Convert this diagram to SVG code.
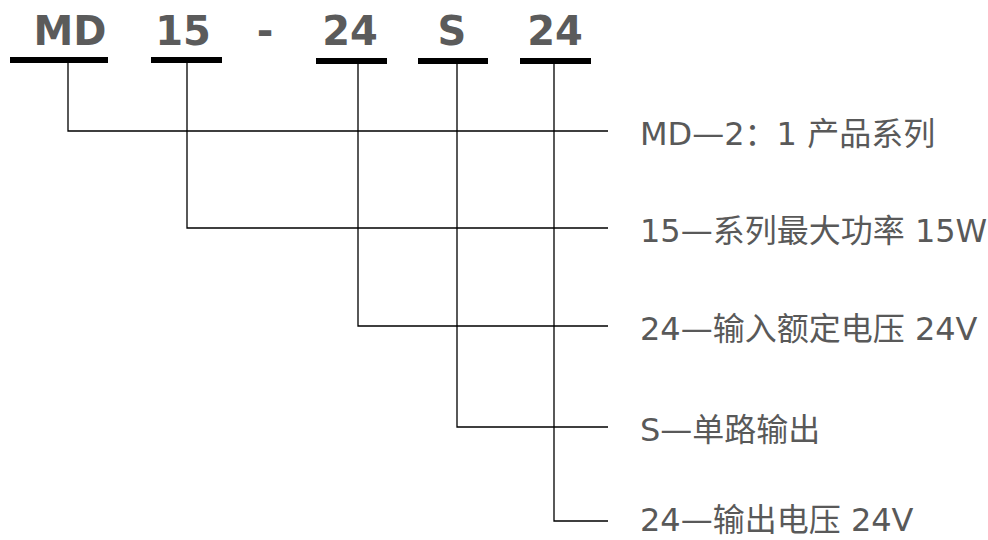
<svg xmlns="http://www.w3.org/2000/svg" width="988" height="540" viewBox="0 0 988 540">
<style>
.t{font-family:"DejaVu Sans","Noto Sans CJK SC",sans-serif;font-weight:bold;font-size:40px;fill:#5b5b5b;text-anchor:middle}
.l{font-family:"DejaVu Sans","Noto Sans CJK SC",sans-serif;font-size:32px;fill:#595959}
.bar{fill:#000}
.c{stroke:#000;stroke-width:1.3;fill:none}
</style>
<rect width="988" height="540" fill="#fff"/>
<g id="code-MD"><text class="t" x="70" y="45">MD</text><rect class="bar" x="10" y="57" width="98" height="6"/></g>
<g id="code-15"><text class="t" x="183" y="45">15</text><rect class="bar" x="151" y="57" width="71" height="6"/></g>
<g id="code-dash"><text class="t" x="265" y="45">-</text></g>
<g id="code-24a"><text class="t" x="350" y="45">24</text><rect class="bar" x="316" y="58" width="71" height="6"/></g>
<g id="code-S"><text class="t" x="452" y="45">S</text><rect class="bar" x="418" y="58" width="70" height="6"/></g>
<g id="code-24b"><text class="t" x="555" y="45">24</text><rect class="bar" x="520" y="58" width="71" height="6"/></g>
<g id="connectors">
<path class="c" d="M68 63V131H608"/>
<path class="c" d="M187 63V228H608"/>
<path class="c" d="M358 64V326H608"/>
<path class="c" d="M457 64V427H608"/>
<path class="c" d="M554 64V521H608"/>
</g>
<g id="label1"><text class="l" x="640" y="145">MD—2：1 产品系列</text></g>
<g id="label2"><text class="l" x="640" y="242">15—系列最大功率 15W</text></g>
<g id="label3"><text class="l" x="640" y="340">24—输入额定电压 24V</text></g>
<g id="label4"><text class="l" x="640" y="441">S—单路输出</text></g>
<g id="label5"><text class="l" x="640" y="531">24—输出电压 24V</text></g>
</svg>
